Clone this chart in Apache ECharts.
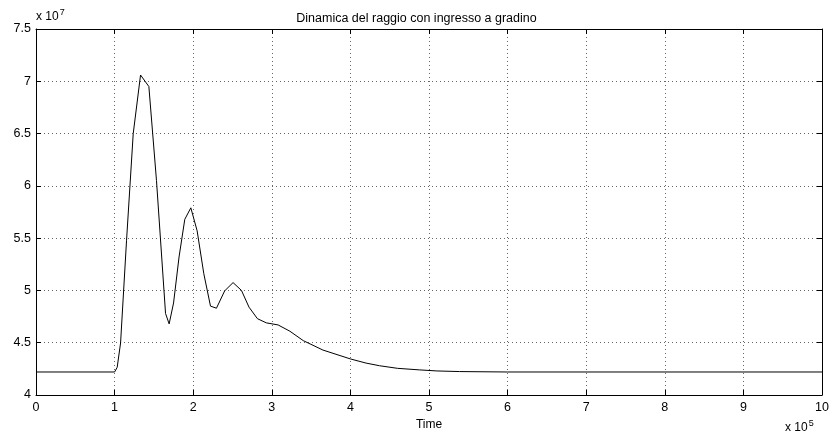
<!DOCTYPE html>
<html>
<head>
<meta charset="utf-8">
<script src="https://cdn.jsdelivr.net/npm/echarts@6/dist/echarts.min.js"></script>
<style>html,body{margin:0;padding:0;background:#fff;}#c{width:833px;height:436px;}</style>
</head>
<body>
<div id="c"></div>
<script>
// time in units of 1e5, radius in units of 1e7
var timeValues = [0, 1.0, 1.033, 1.076, 1.152, 1.237, 1.33, 1.436, 1.533, 1.648, 1.694, 1.75, 1.82, 1.893, 1.97, 2.05, 2.135, 2.22, 2.296, 2.40, 2.507, 2.614, 2.71, 2.817, 2.93, 3.08, 3.23, 3.40, 3.65, 4.0, 4.2, 4.37, 4.6, 4.88, 5.1, 5.39, 6.0, 10];
var radiusValues = [4.22, 4.22, 4.265, 4.497, 5.48, 6.5, 7.06, 6.95, 6.05, 4.78, 4.68, 4.88, 5.32, 5.68, 5.79, 5.57, 5.16, 4.85, 4.83, 4.995, 5.075, 5.0, 4.84, 4.73, 4.69, 4.67, 4.61, 4.52, 4.43, 4.345, 4.305, 4.28, 4.255, 4.24, 4.23, 4.224, 4.22, 4.22];
var xTicks = [0, 1, 2, 3, 4, 5, 6, 7, 8, 9, 10];
var yTicks = [4, 4.5, 5, 5.5, 6, 6.5, 7, 7.5];
var titleText = 'Dinamica del raggio con ingresso a gradino';
var xName = 'Time';

var pts = timeValues.map(function (t, i) { return [t, radiusValues[i]]; });
var font = 'Liberation Sans, Arial, sans-serif';
var gridStyle = { show: true, lineStyle: { color: '#666', width: 1, type: [1, 3] } };
var expRich = { b: { fontFamily: font, fontSize: 12, fill: '#000' }, s: { fontFamily: font, fontSize: 9, fill: '#000', verticalAlign: 'top', padding: [0, 0, 8, 1] } };

var chart = echarts.init(document.getElementById('c'), null, { renderer: 'canvas' });
chart.setOption({
  animation: false,
  backgroundColor: '#fff',
  title: { text: titleText, left: 'center', top: 7, textStyle: { fontFamily: font, fontSize: 12.5, fontWeight: 'normal', color: '#000' } },
  grid: { left: 36, right: 11, top: 29, bottom: 41, containLabel: false },
  xAxis: [{
    type: 'value', min: xTicks[0], max: xTicks[xTicks.length - 1], interval: 1,
    name: xName, nameLocation: 'middle', nameGap: 20,
    nameTextStyle: { fontFamily: font, fontSize: 12, color: '#000' },
    axisLine: { show: true, onZero: false, lineStyle: { color: '#000', width: 1 } },
    axisTick: { show: true, inside: true, length: 5, lineStyle: { color: '#000' } },
    axisLabel: { fontFamily: font, fontSize: 12.5, color: '#000', margin: 6 },
    splitLine: gridStyle
  }, {
    type: 'value', position: 'top', min: 0, max: 10, interval: 1,
    axisLine: { show: true, onZero: false, lineStyle: { color: '#000', width: 1 } },
    axisTick: { show: true, inside: true, length: 5, lineStyle: { color: '#000' } },
    axisLabel: { show: false }, splitLine: { show: false }
  }],
  yAxis: [{
    type: 'value', min: 4, max: 7.5, interval: 0.5,
    axisLine: { show: true, onZero: false, lineStyle: { color: '#000', width: 1 } },
    axisTick: { show: true, inside: true, length: 5, lineStyle: { color: '#000' } },
    axisLabel: { fontFamily: font, fontSize: 12.5, color: '#000', margin: 5 },
    splitLine: gridStyle
  }, {
    type: 'value', position: 'right', min: 4, max: 7.5, interval: 0.5,
    axisLine: { show: true, onZero: false, lineStyle: { color: '#000', width: 1 } },
    axisTick: { show: true, inside: true, length: 5, lineStyle: { color: '#000' } },
    axisLabel: { show: false }, splitLine: { show: false }
  }],
  graphic: [
    { type: 'text', left: 36, top: 8, style: { text: '{b|x 10}{s|7}', rich: expRich } },
    { type: 'text', left: 785, top: 419, style: { text: '{b|x 10}{s|5}', rich: expRich } }
  ],
  series: [{
    type: 'line', data: pts, showSymbol: false, symbol: 'none',
    lineStyle: { color: '#000', width: 1 }, xAxisIndex: 0, yAxisIndex: 0
  }]
});
</script>
</body>
</html>
